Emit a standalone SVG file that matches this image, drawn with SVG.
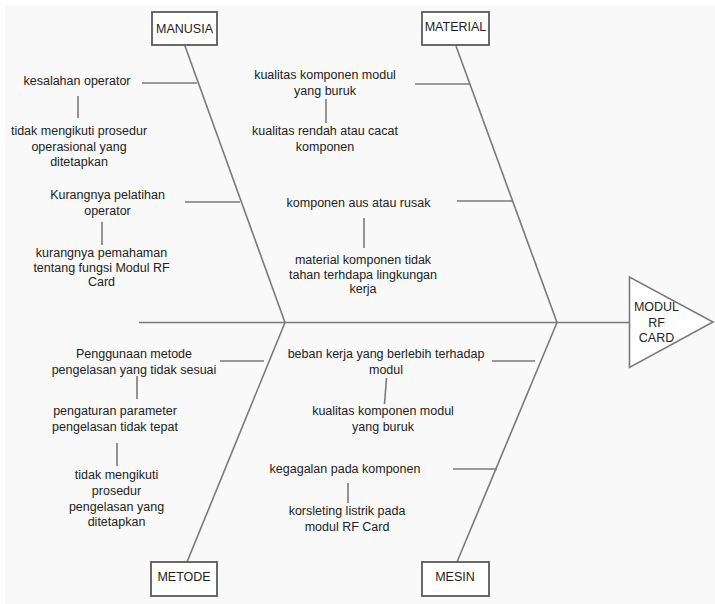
<svg xmlns="http://www.w3.org/2000/svg" width="715" height="604" viewBox="0 0 715 604">
<style>
.bg{fill:#f9f9f9}
.ln{stroke:#7a7a7a;stroke-width:1.6;fill:none}
.box{fill:#fff;stroke:#5a5a5a;stroke-width:1.8}
.tri{fill:#fff;stroke:#7a7a7a;stroke-width:1.6}
text{font-family:"Liberation Sans",Arial,sans-serif;font-size:12.5px;fill:#222;text-anchor:middle}
</style>
<rect width="715" height="604" fill="#fff"/>
<rect class="bg" x="5" y="5" width="710" height="599"/>
<g id="connectors">
<line class="ln" x1="139" y1="322.5" x2="630" y2="322.5"/>
<line class="ln" x1="185" y1="46" x2="285" y2="322.5"/>
<line class="ln" x1="456" y1="46" x2="557" y2="322.5"/>
<line class="ln" x1="285" y1="322.5" x2="187" y2="562"/>
<line class="ln" x1="557" y1="322.5" x2="457" y2="562"/>
<line class="ln" x1="142" y1="83" x2="197" y2="83"/>
<line class="ln" x1="185" y1="202" x2="240" y2="202"/>
<line class="ln" x1="415" y1="84" x2="470" y2="84"/>
<line class="ln" x1="457" y1="201" x2="512" y2="201"/>
<line class="ln" x1="220" y1="361" x2="264" y2="361"/>
<line class="ln" x1="492" y1="361" x2="535" y2="361"/>
<line class="ln" x1="453" y1="469" x2="497" y2="469"/>
<line class="ln" x1="78" y1="96" x2="78" y2="118"/>
<line class="ln" x1="102" y1="222" x2="102" y2="245"/>
<line class="ln" x1="326" y1="99" x2="326" y2="123"/>
<line class="ln" x1="364" y1="218" x2="364" y2="248"/>
<line class="ln" x1="137" y1="376" x2="137" y2="399"/>
<line class="ln" x1="117" y1="443" x2="117" y2="466"/>
<line class="ln" x1="386.5" y1="378" x2="384.5" y2="404"/>
<line class="ln" x1="348" y1="483" x2="348" y2="503"/>
</g>
<g id="manusia"><rect class="box" x="152" y="12" width="65" height="33"/><text x="184.5" y="33">MANUSIA</text></g>
<g id="material"><rect class="box" x="422" y="12" width="67" height="33"/><text x="455.5" y="31">MATERIAL</text></g>
<g id="metode"><rect class="box" x="151" y="562" width="66" height="34"/><text x="184" y="580.5">METODE</text></g>
<g id="mesin"><rect class="box" x="422" y="562" width="67" height="34"/><text x="455" y="580.5">MESIN</text></g>
<g id="effect"><polygon class="tri" points="629.5,277 629.5,367.5 713,322"/>
<text x="656.5" y="311">MODUL</text><text x="656.5" y="326.5">RF</text><text x="656.5" y="341.5">CARD</text></g>
<g id="m1"><text x="77" y="85">kesalahan operator</text></g>
<g id="m2"><text x="79" y="135">tidak mengikuti prosedur</text><text x="79" y="151">operasional yang</text><text x="79" y="166">ditetapkan</text></g>
<g id="m3"><text x="107.5" y="198.5">Kurangnya pelatihan</text><text x="107.5" y="215">operator</text></g>
<g id="m4"><text x="101.5" y="256.5">kurangnya pemahaman</text><text x="101.5" y="272">tentang fungsi Modul RF</text><text x="101.5" y="286">Card</text></g>
<g id="ma1"><text x="325" y="79">kualitas komponen modul</text><text x="325" y="95">yang buruk</text></g>
<g id="ma2"><text x="325" y="135">kualitas rendah atau cacat</text><text x="325" y="151">komponen</text></g>
<g id="ma3"><text x="358.5" y="206.5">komponen aus atau rusak</text></g>
<g id="ma4"><text x="363" y="264">material komponen tidak</text><text x="363" y="279">tahan terhdapa lingkungan</text><text x="363" y="293">kerja</text></g>
<g id="me1"><text x="134" y="357.5">Penggunaan metode</text><text x="134" y="373.5">pengelasan yang tidak sesuai</text></g>
<g id="me2"><text x="115" y="415">pengaturan parameter</text><text x="115" y="431">pengelasan tidak tepat</text></g>
<g id="me3"><text x="116.5" y="479">tidak mengikuti</text><text x="116.5" y="494.5">prosedur</text><text x="116.5" y="510.5">pengelasan yang</text><text x="116.5" y="526">ditetapkan</text></g>
<g id="ms1"><text x="386" y="357.5">beban kerja yang berlebih terhadap</text><text x="386" y="373.5">modul</text></g>
<g id="ms2"><text x="383" y="415">kualitas komponen modul</text><text x="383" y="431">yang buruk</text></g>
<g id="ms3"><text x="345" y="473">kegagalan pada komponen</text></g>
<g id="ms4"><text x="347" y="515">korsleting listrik pada</text><text x="347" y="531">modul RF Card</text></g>
</svg>
